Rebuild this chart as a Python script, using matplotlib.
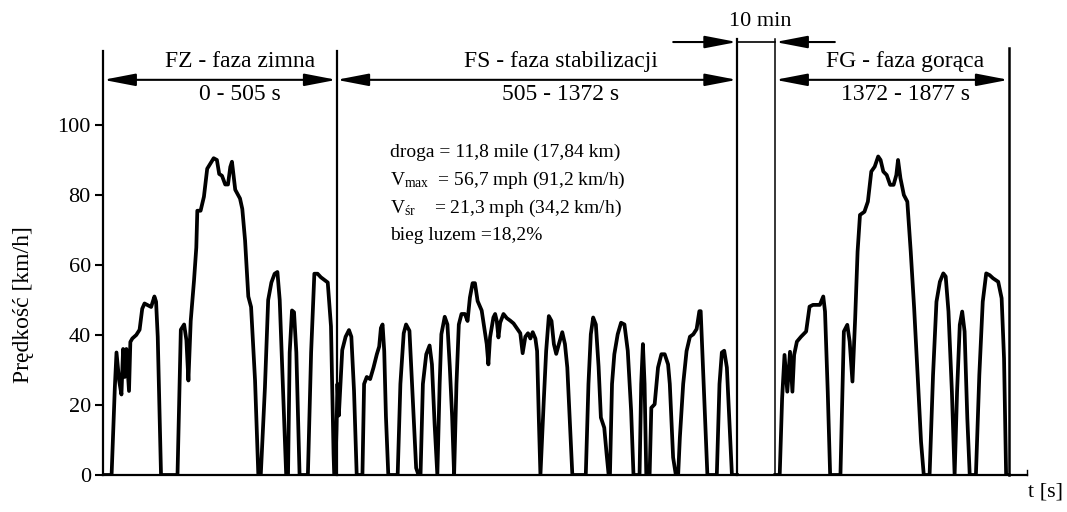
import matplotlib
matplotlib.use('Agg')
import matplotlib.pyplot as plt

plt.rcParams['font.family'] = ['Liberation Serif', 'DejaVu Serif']
plt.rcParams['mathtext.fontset'] = 'custom'
plt.rcParams['mathtext.rm'] = 'Liberation Serif'
plt.rcParams['mathtext.it'] = 'Liberation Serif:italic'

# FTP-75 speed trace: time [s], speed [km/h]
cold_t = [0, 18, 25, 28.6, 34.3, 39.3, 42.9, 46.4, 50, 55.7, 58.6, 62.9, 71.4, 78.6,
          84.3, 89.3, 103.6, 110.7, 114.3, 117.9, 125,
          160.7, 167.9, 175, 180, 184.3, 189.3, 196.4, 201.4, 203.6, 210.7, 217.9,
          225, 232, 239, 246, 251, 257, 264, 270, 275, 278.6, 285.7, 296, 301, 307,
          314, 320, 328.6, 335.7,
          341, 350, 357, 364, 371, 377, 382, 389, 396,
          400, 403.6, 408.6, 413, 418, 425,
          443, 450, 457, 464, 471, 486, 493, 498.6, 500, 502]
cold_v = [0, 0, 25, 35, 27, 23, 36, 28, 36, 24, 38, 39, 40, 41.5,
          47.5, 49, 48, 51, 49.5, 39.5, 0,
          0, 41.5, 43, 38.5, 27, 44, 55.5, 65, 75.5, 75.5, 79.5,
          87.5, 89, 90.5, 90, 86, 85.5, 83, 83, 88, 89.5, 81.5, 79, 76, 67,
          51, 48, 27, 0,
          0, 25, 50, 55, 57.5, 58, 50, 25, 0,
          0, 35, 47, 46.5, 35, 0,
          0, 35, 57.5, 57.5, 56.5, 55, 42.5, 6, 0, 0]

stab_t = [505, 507, 510, 517.4, 524.7, 532, 537.1, 542.9, 548.7, 561.1, 564.7, 570.5,
          577.8, 585.1, 592.3, 597.4, 601.1, 604.7, 608.3, 612, 617.1, 637.4, 643.3,
          650.5, 655.6, 662.9, 670.2, 677.4, 682.5, 686.9, 692, 699.3, 706.5, 711.6,
          717.4, 723.3, 728.3, 732, 739.3, 745.1, 750.2, 755.3, 759.6, 764.7, 769.8,
          775.6, 782.9, 788.7, 793.8, 799.6, 804.7, 810.5, 819.3, 825.1, 830.2, 833.8,
          837.4, 844.7, 848.4, 852, 855.6, 859.3, 866.5, 873.8, 881.1, 888.3, 895.6,
          902.9, 908, 913.8, 919.6, 924.7, 929.8, 935.6, 939.3, 942.9, 946.5, 953.8,
          958.9, 964.7, 970.5, 975.6, 980.7, 986.5, 993.8, 999.6, 1004.7, 1009.8,
          1015.6, 1044.7, 1050.5, 1055.6, 1060.7, 1066.5, 1072.4, 1077.4, 1084.7,
          1089.8, 1094.2, 1097, 1101.5, 1106.5, 1113.8, 1121.1, 1128.4, 1135.6, 1142.9,
          1148, 1161.1, 1164.7, 1168.4, 1172, 1175.7, 1182.9, 1186.6, 1193.8, 1201.1,
          1208.4, 1215.6, 1222.9, 1226.6, 1233.8, 1239.7, 1244.7, 1248.4, 1255.6,
          1262.9, 1270.2, 1277.5, 1284.7, 1290.6, 1293.5, 1297.8, 1302.9, 1308,
          1328.4, 1334.2, 1339.3, 1344.4, 1350.2, 1355.3, 1361.1, 1372]
stab_v = [13, 26, 17, 35.7, 39.5, 41.4, 39.5, 24, 0, 0, 26, 28,
          27.4, 30.7, 34.5, 36.7, 42, 43, 35.4, 16.7, 0, 0, 26,
          40.5, 43, 41.2, 21.2, 2, 0, 0, 26, 34.5, 37, 31.6,
          14.5, 0, 26, 40.2, 45.2, 43, 31, 16.7, 0, 26, 43,
          46, 46, 44, 50.7, 54.8, 54.8, 49.7, 47, 42, 37.4, 31.6,
          39.3, 45, 46, 44, 39.3, 43.5, 46, 44.8, 44.1, 43.3, 41.9,
          40.5, 34.8, 39.5, 40.5, 39, 40.8, 39, 35.4, 16.7, 0, 21.4,
          35.4, 45.4, 44, 37.4, 34.6, 37.4, 40.8, 37.4, 30.7, 16.4,
          0, 0, 26, 40.2, 45, 43, 31, 16.4, 13.5,
          6, 0, 0, 26, 34.5, 40.2, 43.5, 43, 35.5, 18.3,
          0, 0, 26, 37.4, 26, 0, 0, 19.2, 20.2, 30.7,
          34.5, 34.5, 31.6, 26, 5, 0, 0, 10.7, 26,
          35.4, 39.5, 40.2, 41.7, 46.8, 46.8, 32.8, 16.4, 0,
          0, 26, 35, 35.5, 30.7, 16.4, 0, 0]

hot_t = [1372, 1381.6, 1386.8, 1392, 1398, 1403.9, 1409.1, 1412.8, 1418.8, 1427.7,
         1438.8, 1446.2, 1453.7, 1468.5, 1475.9, 1479.7, 1485.6, 1490.8, 1513.1,
         1520.5, 1527.9, 1533.1, 1539.1, 1545, 1550.2, 1555.4, 1565, 1572.5, 1579.9,
         1587.3, 1594.8, 1600, 1605.9, 1613.3, 1620.7, 1628.2, 1634.1, 1637.8, 1643,
         1650.4, 1657.9, 1665.3, 1672.7, 1680.2, 1687.6, 1693.5, 1706.1, 1713.6,
         1721, 1728.4, 1735.8, 1741, 1747, 1754.4, 1760.3, 1765.6, 1771.5, 1776.7,
         1781.9, 1787.8, 1793, 1806.4, 1813.8, 1821.2, 1828.7, 1836.1, 1843.5,
         1854.7, 1862.1, 1867.3, 1871.8, 1877]
hot_v = [0, 0, 21.9, 34.3, 23.8, 35.2, 23.8, 34.3, 38.1, 39.5,
         41, 48.1, 48.6, 48.6, 51, 46.7, 23.8, 0, 0,
         41, 42.9, 38.1, 26.7, 44.8, 63.8, 74.3, 75.2, 78.1, 86.7,
         88.1, 91, 90, 86.7, 85.7, 82.9, 82.9, 85.7, 90, 84.8,
         80, 78.1, 63.8, 47.6, 28.6, 9.5, 0, 0, 28.6,
         49.5, 55.2, 57.6, 56.7, 46.7, 23.8, 0, 23.8, 42.9, 46.7,
         41, 16.2, 0, 0, 28.6, 49.5, 57.6, 57.1, 56.2,
         55.2, 50.5, 33.3, 0, 0]

phase_edges = [0, 505, 1372, 1877]
phase_names = ['FZ - faza zimna', 'FS - faza stabilizacji', 'FG - faza gorąca']
phase_ranges = ['0 - 505 s', '505 - 1372 s', '1372 - 1877 s']
soak_label = '10 min'
stats_lines = ['droga = 11,8 mile (17,84 km)',
               'V$_{\\mathrm{max}}$  = 56,7 mph (91,2 km/h)',
               'V$_{\\mathrm{śr}}$    = 21,3 mph (34,2 km/h)',
               'bieg luzem =18,2%']
y_ticks = [0, 20, 40, 60, 80, 100]

GAP = 83  # axis space reserved for the 10 min soak


def hot_x(t):
    return t + GAP


fig = plt.figure(figsize=(10.67, 5.12), dpi=100)
ax = fig.add_axes([0.0968, 0.0723, 0.8657, 0.8545])
ax.set_xlim(0, 2000)
ax.set_ylim(0, 125)

x_all = cold_t + stab_t
v_all = cold_v + stab_v
ax.plot(x_all, v_all, color='black', lw=2.7, solid_joinstyle='round')
ax.plot([hot_x(t) for t in hot_t], hot_v, color='black', lw=2.7, solid_joinstyle='round')

for s in ['top', 'right']:
    ax.spines[s].set_visible(False)
ax.spines['left'].set_bounds(0, 121)
ax.spines['left'].set_linewidth(1.6)
ax.spines['bottom'].set_linewidth(1.6)
ax.set_xticks([])
ax.set_yticks(y_ticks)
ax.tick_params(axis='y', direction='out', length=6, width=1.5, labelsize=16, pad=3)
ax.plot([2000, 2000], [0, 1.5], color='black', lw=1, clip_on=False)

# phase separators
sep_x = [phase_edges[1], phase_edges[2], hot_x(phase_edges[2]), hot_x(phase_edges[3])]
sep_top = [121, 124.5, 124.5, 122]
sep_lw = [1.6, 1.6, 1.1, 1.8]
for x, top, lw in zip(sep_x, sep_top, sep_lw):
    ax.plot([x, x], [0, top], color='black', lw=lw, clip_on=False)

arrow_kw = dict(color='black', lw=1.5, shrinkA=0, shrinkB=0, mutation_scale=15)
spans = [(phase_edges[0], phase_edges[1]), (phase_edges[1], phase_edges[2]),
         (hot_x(phase_edges[2]), hot_x(phase_edges[3]))]
for (x0, x1) in spans:
    ax.annotate('', xy=(x1, 112.9), xytext=(x0, 112.9), annotation_clip=False,
                arrowprops=dict(arrowstyle='<|-|>,head_length=1.3,head_width=0.25', **arrow_kw))

text_x = [296, 991, 1736]
for x, name, rng in zip(text_x, phase_names, phase_ranges):
    ax.text(x, 118, name, ha='center', va='center', fontsize=17)
    ax.text(x, 108.6, rng, ha='center', va='center', fontsize=17)

# 10 min soak marker
ax.plot([phase_edges[2], hot_x(phase_edges[2])], [123.7, 123.7], color='black', lw=1.2, clip_on=False)
ax.annotate('', xy=(phase_edges[2], 123.7), xytext=(1234, 123.7), annotation_clip=False,
            arrowprops=dict(arrowstyle='-|>,head_length=1.3,head_width=0.25', **arrow_kw))
ax.annotate('', xy=(hot_x(phase_edges[2]), 123.7), xytext=(1584, 123.7), annotation_clip=False,
            arrowprops=dict(arrowstyle='-|>,head_length=1.3,head_width=0.25', **arrow_kw))
ax.text(1422, 129.6, soak_label, ha='center', va='center', fontsize=16, clip_on=False)

for line, yb in zip(stats_lines, [90.9, 82.9, 74.9, 67.2]):
    ax.text(621, yb, line, ha='left', va='baseline', fontsize=14)

fig.text(24 / 1067, 1 - 305 / 512, 'Prędkość [km/h]', rotation=90,
         ha='center', va='center', fontsize=17)
fig.text(1045 / 1067, 1 - 492 / 512, 't [s]', ha='center', va='center', fontsize=16)

fig.savefig('out.png', dpi=100)
